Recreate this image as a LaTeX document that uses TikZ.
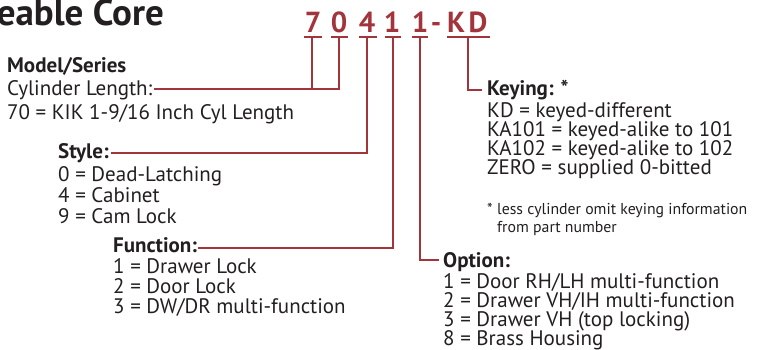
\documentclass[tikz,border=0pt]{standalone}
\usepackage{fontspec}
\setmainfont{PT Sans}
\definecolor{codered}{HTML}{A2343B}
\definecolor{ink}{HTML}{231F20}
\begin{document}
\begin{tikzpicture}[x=1pt,y=-1pt,
  txt/.style={anchor=base west, inner sep=0pt, font=\fontsize{21}{21}\selectfont, text=ink},
  hd/.style={txt, font=\fontsize{21}{21}\selectfont\bfseries},
  note/.style={txt, font=\fontsize{15.8}{15.8}\selectfont},
  codechar/.style={anchor=base, inner sep=0pt, font=\fontsize{29}{29}\selectfont\bfseries, text=codered},
  conn/.style={draw=codered, line width=2pt}]
\useasboundingbox (0,0) rectangle (760,350);
% title
\node[anchor=base east, inner sep=0pt, font=\fontsize{37}{37}\selectfont\bfseries, text=ink] (title) at (164,26) {eable Core};
% code
\node[codechar] (c7) at (313,33) {7};
\node[codechar] (c0) at (339,33) {0};
\node[codechar] (c4) at (367,33) {4};
\node[codechar] (c1a) at (392,33) {1};
\node[codechar] (c1b) at (420,33) {1};
\node[codechar] (cdash) at (436,33) {-};
\node[codechar] (ck) at (456,33) {K};
\node[codechar] (cd) at (478,33) {D};
\coordinate (u7) at (312,37);
\coordinate (u0) at (339,37);
\coordinate (u4) at (367,37);
\coordinate (u1a) at (393,37);
\coordinate (u1b) at (420,37);
\coordinate (ukd) at (468,37);
\draw[conn] (304,37) -- (322,37);
\draw[conn] (331,37) -- (348,37);
\draw[conn] (359,37) -- (377,37);
\draw[conn] (385,37) -- (401,37);
\draw[conn] (412,37) -- (428,37);
\draw[conn] (447,37) -- (490,37);
% model
\node[hd] (model) at (7,73) {Model/Series};
\node[txt] (cyl) at (7,96) {Cylinder Length:};
\node[txt] (m70) at (7,120) {70 = KIK 1-9/16 Inch Cyl Length};
% style
\node[hd] (style) at (58,158) {Style:};
\node[txt] (s0) at (58,181) {0 = Dead-Latching};
\node[txt] (s4) at (58,202) {4 = Cabinet};
\node[txt] (s9) at (58,223) {9 = Cam Lock};
% function
\node[hd] (func) at (113,252) {Function:};
\node[txt] (f1) at (113,273) {1 = Drawer Lock};
\node[txt] (f2) at (113,293) {2 = Door Lock};
\node[txt] (f3) at (113,313) {3 = DW/DR multi-function};
% keying
\node[hd] (keying) at (487,96) {Keying: *};
\node[txt] (kd) at (487,118) {KD = keyed-different};
\node[txt] (ka1) at (487,137) {KA101 = keyed-alike to 101};
\node[txt] (ka2) at (487,156) {KA102 = keyed-alike to 102};
\node[txt] (kz) at (487,175) {ZERO = supplied 0-bitted};
\node[note] (ast) at (487,214) {*};
\node[note] (n1) at (497,214) {less cylinder omit keying information};
\node[note] (n2) at (497,232) {from part number};
% option
\node[hd] (option) at (443,267) {Option:};
\node[txt] (o1) at (443,288) {1 = Door RH/LH multi-function};
\node[txt] (o2) at (443,307) {2 = Drawer VH/IH multi-function};
\node[txt] (o3) at (443,326) {3 = Drawer VH (top locking)};
\node[txt] (o8) at (443,345) {8 = Brass Housing};
% connectors
\coordinate (cylE) at ([xshift=1pt,yshift=7pt]cyl.base east);
\draw[conn] (u0) |- (cylE);
\draw[conn] (u7) -- (u7 |- cylE);
\draw[conn] (u4) |- ([xshift=2pt,yshift=5pt]style.base east);
\draw[conn] (u1a) |- ([xshift=1pt,yshift=4pt]func.base east);
\draw[conn] (u1b) |- ([xshift=-4pt,yshift=7pt]option.base west);
\draw[conn] (ukd) |- ([xshift=-5pt,yshift=6pt]keying.base west);
\end{tikzpicture}
\end{document}
